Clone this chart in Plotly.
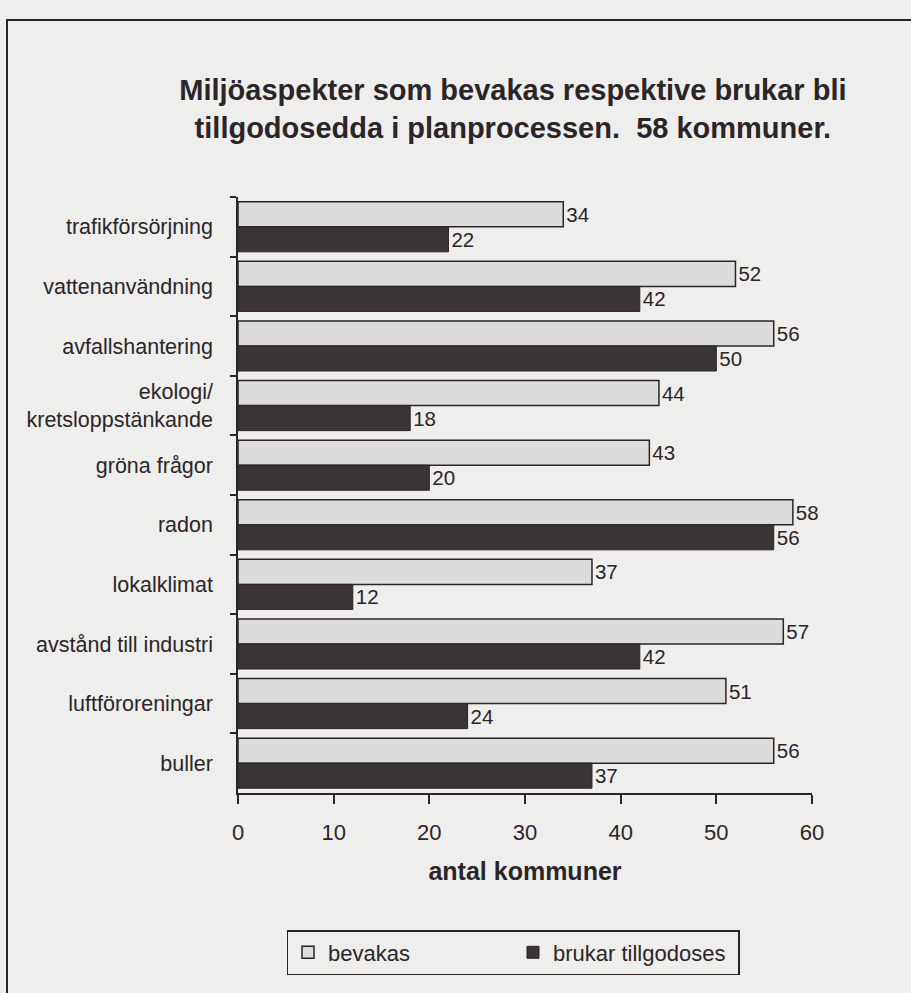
import plotly.graph_objects as go

categories = ["trafikförsörjning", "vattenanvändning", "avfallshantering",
              "ekologi/<br>kretsloppstänkande", "gröna frågor", "radon",
              "lokalklimat", "avstånd till industri", "luftföroreningar", "buller"]
bevakas = [34, 52, 56, 44, 43, 58, 37, 57, 51, 56]
brukar = [22, 42, 50, 18, 20, 56, 12, 42, 24, 37]
x_ticks = [0, 10, 20, 30, 40, 50, 60]

ink = "#2b2528"
font_main = "Liberation Sans, Arial, Helvetica, sans-serif"

fig = go.Figure()
fig.add_trace(go.Bar(
    y=categories, x=bevakas, orientation="h", name="bevakas",
    marker=dict(color="#dcdcdc", line=dict(color=ink, width=1.5)),
    text=bevakas, textposition="outside", cliponaxis=False,
    textfont=dict(size=20.5, color=ink, family=font_main),
))
fig.add_trace(go.Bar(
    y=categories, x=brukar, orientation="h", name="brukar tillgodoses",
    marker=dict(color="#3b3436", line=dict(color=ink, width=1)),
    text=brukar, textposition="outside", cliponaxis=False,
    textfont=dict(size=20.5, color=ink, family=font_main),
))

# plot area pixel geometry
L, R, T, B = 238, 812, 197, 793
W, H = R - L, B - T
def px(x):
    return (x - L) / W
def py(y):
    return (B - y) / H

fig.update_layout(
    width=911, height=993,
    margin=dict(l=L, r=911 - R, t=T, b=993 - B, autoexpand=False),
    paper_bgcolor="#eeeeec", plot_bgcolor="#eeeeec",
    barmode="group", bargap=0.16, bargroupgap=0,
    title=dict(
        text="Miljöaspekter som bevakas respektive brukar bli<br>tillgodosedda i planprocessen.  58 kommuner.",
        x=0.563, xanchor="center", y=1 - 100 / 993, yanchor="top",
        font=dict(family=font_main, size=29, color=ink, weight="bold"),
    ),
    font=dict(family=font_main, color=ink),
    showlegend=True,
    legend=dict(
        orientation="h", x=px(513), xanchor="center", y=py(930), yanchor="top",
        bgcolor="rgba(0,0,0,0)", bordercolor=ink, borderwidth=1.5,
        font=dict(size=22, color=ink, family=font_main),
        entrywidth=180, traceorder="normal",
    ),
    xaxis=dict(
        range=[0, 60], tickvals=x_ticks, ticktext=[str(v) for v in x_ticks],
        showgrid=False, zeroline=False, showline=True, linecolor=ink, linewidth=1.5,
        ticks="outside", ticklen=9, tickwidth=1.5, tickcolor=ink,
        tickfont=dict(size=22, color=ink), ticklabelstandoff=10,
        title=dict(text="<b>antal kommuner</b>", font=dict(size=25, color=ink), standoff=18),
    ),
    yaxis=dict(
        autorange="reversed", showgrid=False, zeroline=False,
        showline=True, linecolor=ink, linewidth=1.5,
        ticks="outside", tickson="boundaries", ticklen=6, tickwidth=1.5, tickcolor=ink,
        tickfont=dict(size=21.5, color=ink), ticklabelstandoff=19,
    ),
)

# outer frame of the figure box
fig.add_shape(type="rect", xref="paper", yref="paper",
              x0=px(7), x1=px(925), y0=py(1010), y1=py(20),
              line=dict(color=ink, width=2), fillcolor="rgba(0,0,0,0)", layer="below")

fig.write_html("out.html")
